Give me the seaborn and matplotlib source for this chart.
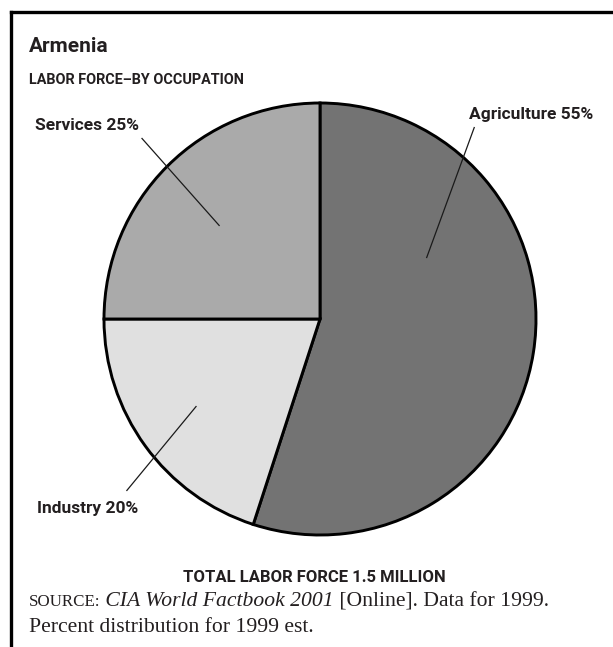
import matplotlib
matplotlib.use("Agg")
import matplotlib.pyplot as plt
from matplotlib import font_manager
from matplotlib.lines import Line2D
import pandas as pd
import seaborn as sns

# Labor force by occupation, Armenia (1999 est.)
occupations = ["Agriculture", "Industry", "Services"]
shares = [55, 20, 25]
slice_colors = ["#737373", "#e0e0e0", "#aaaaaa"]

title = "Armenia"
subtitle = "LABOR FORCE\u2013BY OCCUPATION"
total_note = "TOTAL LABOR FORCE 1.5 MILLION"
source_parts = [("SOURCE:", "smallcaps"), (" CIA World Factbook 2001", "italic"),
                (" [Online]. Data for 1999.", "normal")]
source_line2 = "Percent distribution for 1999 est."

df = pd.DataFrame({"occupation": occupations, "share": shares, "color": slice_colors})

sns.set_theme(style="white")
installed = {f.name for f in font_manager.fontManager.ttflist}
narrow = "Liberation Sans Narrow" if "Liberation Sans Narrow" in installed else "Roboto"
plt.rcParams["font.family"] = [narrow, "DejaVu Sans"]
serif = ["Liberation Serif", "DejaVu Serif"]
ink = "#231f20"

W, H = 613, 647
fig = plt.figure(figsize=(W / 100, H / 100), dpi=100)
fig.patch.set_facecolor("white")


def fx(x):
    return x / W


def fy(y):
    return 1 - y / H


# Pie axes: centre and radius in pixels
cx, cy, R = 320.0, 319.0, 216.0
lim = 1.2
side = 2 * lim * R
ax = fig.add_axes([fx(cx - side / 2), fy(cy + side / 2), side / W, side / H])
wedges, _ = ax.pie(df["share"], colors=df["color"], startangle=90, counterclock=False,
                   radius=1.0,
                   wedgeprops=dict(edgecolor="black", linewidth=2.1, joinstyle="miter"))
ax.set_xlim(-lim, lim)
ax.set_ylim(-lim, lim)
ax.set_aspect("equal")
ax.axis("off")

# Leader lines (data coordinates of the pie axes) and label anchors (pixels)
leaders = {
    "Services": ((-0.465, 0.431), (-0.826, 0.838)),
    "Agriculture": ((0.493, 0.282), (0.715, 0.889)),
    "Industry": ((-0.572, -0.403), (-0.896, -0.796)),
}
label_pos = {"Services": (35, 126), "Agriculture": (469, 114), "Industry": (37, 509)}
for name, share in zip(df["occupation"], df["share"]):
    (x0, y0), (x1, y1) = leaders[name]
    ax.plot([x0, x1], [y0, y1], color="#1a1a1a", lw=0.9, clip_on=False,
            solid_capstyle="butt")
    lx, ly = label_pos[name]
    fig.text(fx(lx), fy(ly), f"{name} {share}%", ha="left", va="center",
             fontsize=12.5, fontweight="bold", color=ink)

# Titles
fig.text(fx(29), fy(47), title, ha="left", va="center", fontsize=15,
         fontweight="bold", color=ink)
fig.text(fx(29), fy(80), subtitle, ha="left", va="center", fontsize=10.4,
         fontweight="bold", color=ink)
fig.text(fx(314), fy(577), total_note, ha="center", va="center", fontsize=12,
         fontweight="bold", color=ink)

# Source note, built piece by piece
fig.canvas.draw()
renderer = fig.canvas.get_renderer()
x = 29.0
base1 = 606.0
body = 15.6
for txt, style in source_parts:
    kw = dict(family=serif, color=ink, ha="left", va="baseline")
    if style == "smallcaps":
        t = fig.text(fx(x), fy(base1), txt, fontsize=body * 0.78, **kw)
    elif style == "italic":
        t = fig.text(fx(x), fy(base1), txt, fontsize=body, style="italic", **kw)
    else:
        t = fig.text(fx(x), fy(base1), txt, fontsize=body, **kw)
    bb = t.get_window_extent(renderer)
    x += bb.width
fig.text(fx(29), fy(632), source_line2, family=serif, fontsize=body, color=ink,
         ha="left", va="baseline")

# Frame: heavy rule along the top and left edges
for xs, ys in [([10.5, 10.5], [H + 5, 12]), ([10.5, W + 5], [12, 12])]:
    fig.add_artist(Line2D([fx(v) for v in xs], [fy(v) for v in ys], color="black",
                          lw=2.4, solid_capstyle="projecting", transform=fig.transFigure))

fig.savefig("out.png", dpi=100, facecolor="white")
